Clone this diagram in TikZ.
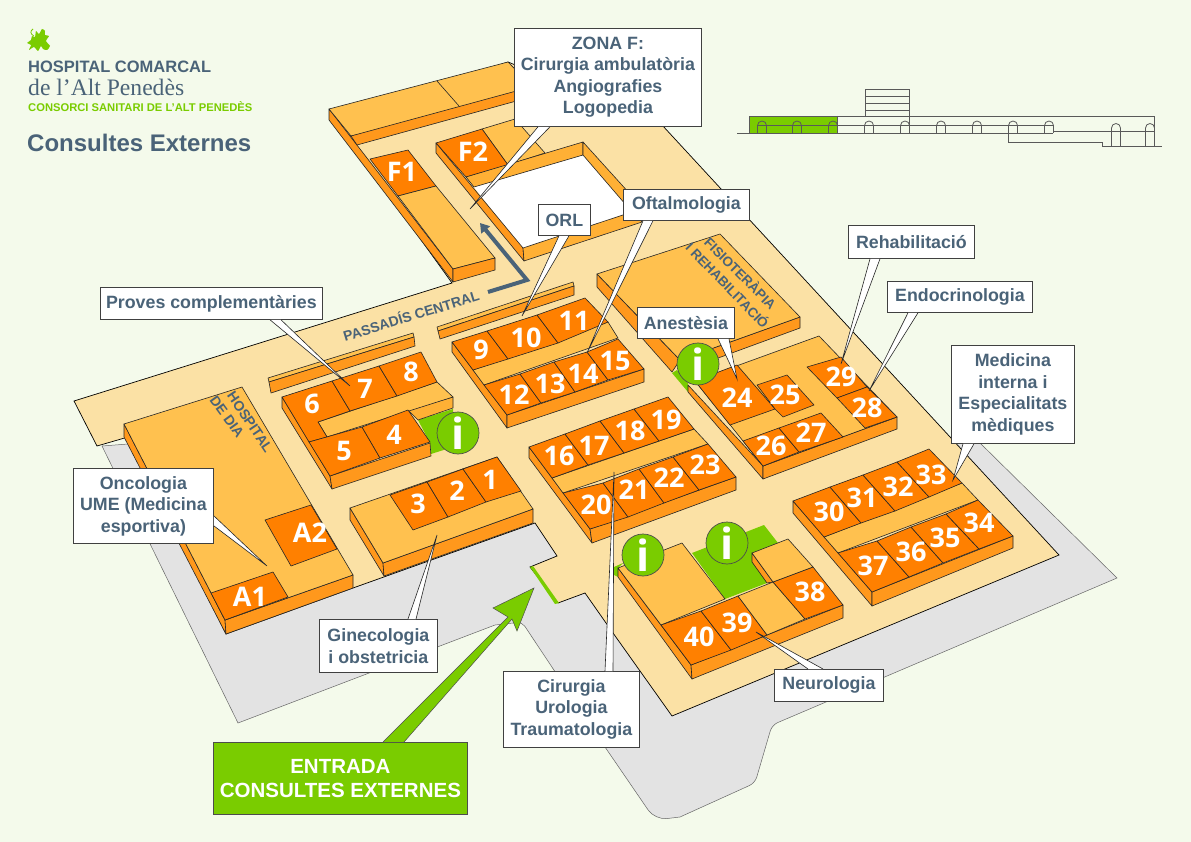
\documentclass[tikz,border=0pt]{standalone}
\usepackage{fontspec}
\setmainfont{Liberation Sans}
\newfontfamily\serifpart{Liberation Serif}
\newfontfamily\numfont{Open Sans}
\usetikzlibrary{arrows.meta}

\definecolor{pagebg}{HTML}{F4FAEB}
\definecolor{ground}{HTML}{E3E3E3}
\definecolor{floortan}{HTML}{FBE1A5}
\definecolor{roomorange}{HTML}{FF8000}
\definecolor{wallorange}{HTML}{FF981C}
\definecolor{rooflight}{HTML}{FFC14F}
\definecolor{bandlight}{HTML}{FFB035}
\definecolor{leafgreen}{HTML}{7ACC00}
\definecolor{slatetext}{HTML}{4A6378}

\tikzset{
  room/.style={fill=roomorange, draw=black!85, line width=0.6pt, line join=round},
  wall/.style={fill=wallorange, draw=black!85, line width=0.6pt, line join=round},
  roof/.style={fill=rooflight, draw=black!85, line width=0.6pt, line join=round},
  band/.style={fill=bandlight, draw=black!85, line width=0.6pt, line join=round},
  garden/.style={fill=leafgreen},
  num/.style={text=white, inner sep=0pt, font=\numfont\bfseries\fontsize{27}{27}\selectfont},
  callout/.style={fill=white, draw=black!75, line width=0.8pt, inner sep=0pt, anchor=north west,
    align=center, text=slatetext, font=\bfseries\fontsize{17.8}{21.5}\selectfont},
  infodot/.style={circle, fill=leafgreen, draw=black!70, line width=0.7pt, minimum size=42pt,
    inner sep=0pt, text=white, font=\numfont\bfseries\fontsize{43}{43}\selectfont},
  walltext/.style={text=slatetext, inner sep=0pt, font=\bfseries\fontsize{13.5}{14}\selectfont},
  logotext/.style={anchor=west, inner sep=0pt, text=slatetext},
  sect/.style={draw=black!65, line width=0.8pt},
}

\newcommand{\calloutlead}[3]{
  \fill[white] (#1) -- (#3) -- (#2) -- cycle;
  \draw[black!85, line width=0.6pt, line join=miter] (#1) -- (#3) -- (#2);
}

\begin{document}
\begin{tikzpicture}[x=1pt, y=-1pt]
    \useasboundingbox (0,0) rectangle (1191,842);
    \fill[pagebg] (0,0) rectangle (1191,842);

    % logo
    \fill[leafgreen] plot[smooth cycle, tension=0.4] coordinates {(27,43) (31,40) (32,36) (35,37) (36,31) (39,34)
      (42,29) (45,31) (45,35) (49,36) (46,41) (50,46) (47,50) (43,49) (41,46) (38,51) (34,47) (29,50) (31,45)};
    \draw[leafgreen, line width=0.8pt] (34,36) .. controls (30,34) and (30,31) .. (33,29);
    \node[logotext, font=\bfseries\fontsize{16.5}{17}\selectfont] (logoa) at (28,66.5) {HOSPITAL COMARCAL};
    \node[logotext, font=\serifpart\fontsize{23.6}{24}\selectfont] (logob) at (28,87) {de l’Alt Penedès};
    \node[logotext, text=leafgreen, font=\bfseries\fontsize{11.2}{12}\selectfont] (logoc) at (28,107) {CONSORCI SANITARI DE L’ALT PENEDÈS};
    \node[logotext, font=\bfseries\fontsize{24}{25}\selectfont] (maintitle) at (27,143) {Consultes Externes};

    % section at top right
    \fill[leafgreen] (749,116) rectangle (837,133);
    \draw[sect] (737,133) -- (1053,133);
    \draw[sect] (749,133) -- (749,116) -- (1154,116) -- (1154,146);
    \draw[sect] (837,116) -- (837,133);
    \draw[sect] (865,116) -- (865,89) -- (909,89) -- (909,125);
    \foreach \rowy in {96,103,110} {
      \draw[sect] (865,\rowy) -- (909,\rowy);
    }
    \draw[sect] (757,125) -- (1053,125);
    \draw[sect] (1053,131) -- (1112,131);
    \draw[sect] (1120,131) -- (1146,131);
    \draw[sect] (1008,133) -- (1008,142) -- (1102,142) -- (1102,146) -- (1162,146);
    \foreach \archx in {762,797,833,869,905,941,977,1013,1049} {
      \draw[sect] (\archx-4.5,133) -- (\archx-4.5,125.5) arc (180:360:4.5) -- (\archx+4.5,133);
    }
    \foreach \archx in {1116,1150} {
      \draw[sect] (\archx-4.5,146) -- (\archx-4.5,128) arc (180:360:4.5) -- (\archx+4.5,146);
      \draw[sect] (\archx-4.5,131) -- (\archx+4.5,131);
    }

    % ground
    \filldraw[fill=ground, draw=black!60, line width=0.5pt] (102,446) -- (238,723) -- (495,625)
      [rounded corners=5pt] -- (522,622) [sharp corners] -- (605,747)
      [rounded corners=12pt] -- (655,820) [sharp corners] -- (680,817)
      [rounded corners=6pt] -- (755,783) -- (772,725) [sharp corners] -- (1117,578) -- (980,443) -- (700,400) -- cycle;

    % floor
    \filldraw[fill=floortan, draw=black, line width=0.7pt, line join=miter] (74,401) -- (452,283) -- (335,120)
      -- (508,62) -- (662,125) -- (1059,555) -- (672,716) -- (613,633) -- (585,593) -- (558,603)
      -- (530,567) -- (557,556) -- (535,523) -- (353,588) -- (226,634) -- (128,437) -- (97,446) -- cycle;
    % entrance door
    \fill[leafgreen] (530,567) -- (533,566) -- (559,603) -- (555,604) -- cycle;

    % zone F
    \draw[wall] (329,109) -- (329,120) -- (453,282) -- (453,269) -- cycle;
    \draw[roof] (329,109) -- (508,62) -- (540,95) -- (351,136) -- cycle;
    \draw[black!85, line width=0.6pt] (437,81) -- (459,106);
    \draw[wall] (351,136) -- (520,90) -- (520,100) -- (357,145) -- cycle;
    \draw[room] (370,159) -- (408,150) -- (436,186) -- (398,196) -- cycle;
    \draw[roof] (398,196) -- (436,186) -- (495,258) -- (453,269) -- cycle;
    \draw[wall] (453,269) -- (495,258) -- (495,270) -- (453,282) -- cycle;
    \node[num] (roomfa) at (402,172) {F1};

    \draw[roof] (482,129) -- (515,119) -- (545,153) -- (508,165) -- cycle;
    \draw[room] (436,143) -- (482,129) -- (508,165) -- (466,177) -- cycle;
    \node[num] (roomfb) at (473,152) {F2};
    \fill[white] (474,187) -- (583,155) -- (640,210) -- (523,250) -- cycle;
    \draw[wall] (436,143) -- (436,153) -- (524,261) -- (523,248) -- cycle;
    \draw[band] (466,177) -- (583,142) -- (583,155) -- (474,187) -- cycle;
    \draw[band] (583,142) -- (640,205) -- (632,212) -- (583,155) -- cycle;
    \draw[band] (523,248) -- (632,212) -- (642,222) -- (524,261) -- cycle;

    % corridor arrow
    \draw[slatetext, line width=4pt, -{Triangle[length=9pt, width=11pt]}] (488,292) -- (527,280) -- (480,223);
    \node[walltext, font=\bfseries\fontsize{14}{14}\selectfont, rotate=17] (corridor) at (411,315) {PASSADÍS CENTRAL};

    % narrow walls
    \draw[roof] (437,327) -- (573,282) -- (574,286) -- (438,331) -- cycle;
    \draw[wall] (438,331) -- (574,286) -- (574,295) -- (440,339) -- cycle;
    \draw[roof] (268,378) -- (413,333) -- (414,337) -- (269,382) -- cycle;
    \draw[wall] (269,382) -- (414,337) -- (415,346) -- (271,393) -- cycle;

    % block A
    \draw[wall] (124,424) -- (124,437) -- (226,634) -- (225,620) -- cycle;
    \draw[wall] (225,620) -- (353,575) -- (353,588) -- (226,634) -- cycle;
    \draw[roof] (124,424) -- (242,387) -- (353,575) -- (225,620) -- cycle;
    \draw[room] (211,593) -- (273,572) -- (288,597) -- (225,620) -- cycle;
    \draw[room] (265,520) -- (311,505) -- (337,549) -- (291,566) -- cycle;
    \node[num] (rooma) at (250,597) {A1};
    \node[num] (roomb) at (310,533) {A2};
    \node[walltext, font=\bfseries\fontsize{14}{14}\selectfont, rotate=-56] (hosptext) at (250,422) {HOSPITAL};
    \node[walltext, font=\bfseries\fontsize{14}{14}\selectfont, rotate=-54] (diatext) at (227,417) {DE DIA};

    % block 1 to 3
    \draw[wall] (350,508) -- (350,520) -- (384,576) -- (383,563) -- cycle;
    \draw[wall] (383,563) -- (533,509) -- (533,523) -- (384,576) -- cycle;
    \draw[roof] (350,508) -- (497,457) -- (533,509) -- (383,563) -- cycle;
    \draw[room] (390,495) -- (427,482) -- (448,517) -- (413,530) -- cycle;
    \draw[room] (427,482) -- (463,469) -- (486,502) -- (448,517) -- cycle;
    \draw[room] (463,469) -- (497,457) -- (521,491) -- (486,502) -- cycle;
    \foreach \numx/\numy/\numtext in {490/480/1, 457/491/2, 418/504/3} {
      \node[num] (room\numtext) at (\numx,\numy) {\numtext};
    }

    % block 4 to 8
    \fill[garden] (418,420) -- (453,409) -- (453,447) -- (431,454) -- (430,443) -- cycle;
    \draw[band] (408,410) -- (453,397) -- (453,408) -- (418,420) -- cycle;
    \draw[wall] (282,397) -- (282,408) -- (332,489) -- (330,476) -- cycle;
    \draw[wall] (330,476) -- (430,443) -- (431,456) -- (332,489) -- cycle;
    \draw[roof] (318,422) -- (437,382) -- (453,397) -- (327,437) -- cycle;
    \draw[room] (282,397) -- (332,381) -- (350,411) -- (318,422) -- (327,437) -- (309,442) -- cycle;
    \draw[room] (332,381) -- (379,366) -- (397,396) -- (350,411) -- cycle;
    \draw[room] (379,366) -- (421,352) -- (437,382) -- (397,396) -- cycle;
    \draw[room] (309,442) -- (362,427) -- (380,458) -- (330,476) -- cycle;
    \draw[room] (362,427) -- (408,410) -- (430,442) -- (380,458) -- cycle;
    \foreach \numx/\numy/\numtext in {394/435/4, 344/451/5, 312/404/6, 365/389/7, 411/372/8} {
      \node[num] (room\numtext) at (\numx,\numy) {\numtext};
    }

    % block 9 to 15
    \draw[wall] (452,342) -- (452,352) -- (507,428) -- (507,415) -- cycle;
    \draw[wall] (507,415) -- (644,369) -- (644,382) -- (507,428) -- cycle;
    \draw[roof] (473,370) -- (608,322) -- (618,338) -- (484,385) -- cycle;
    \draw[room] (452,342) -- (487,331) -- (508,359) -- (473,370) -- cycle;
    \draw[room] (487,331) -- (537,315) -- (558,343) -- (508,359) -- cycle;
    \draw[room] (537,315) -- (585,298) -- (608,322) -- (558,343) -- cycle;
    \draw[room] (484,385) -- (520,374) -- (541,403) -- (507,415) -- cycle;
    \draw[room] (520,374) -- (554,362) -- (575,392) -- (541,403) -- cycle;
    \draw[room] (554,362) -- (587,352) -- (608,380) -- (575,392) -- cycle;
    \draw[room] (587,352) -- (618,339) -- (644,369) -- (608,380) -- cycle;
    \foreach \numx/\numy/\numtext in {481/350/9, 526/338/10, 574/321/11, 514/395/12, 550/384/13, 583/374/14, 615/361/15} {
      \node[num] (room\numtext) at (\numx,\numy) {\numtext};
    }

    % block 16 to 23
    \draw[wall] (529,447) -- (529,458) -- (592,543) -- (590,529) -- cycle;
    \draw[wall] (590,529) -- (736,477) -- (736,490) -- (592,543) -- cycle;
    \draw[roof] (552,478) -- (694,429) -- (708,444) -- (563,493) -- cycle;
    \draw[room] (529,447) -- (565,434) -- (588,465) -- (552,478) -- cycle;
    \draw[room] (565,434) -- (600,421) -- (624,453) -- (588,465) -- cycle;
    \draw[room] (600,421) -- (634,409) -- (659,441) -- (624,453) -- cycle;
    \draw[room] (634,409) -- (668,397) -- (694,429) -- (659,441) -- cycle;
    \draw[room] (563,493) -- (603,483) -- (628,517) -- (590,529) -- cycle;
    \draw[room] (603,483) -- (639,469) -- (664,503) -- (628,517) -- cycle;
    \draw[room] (639,469) -- (673,457) -- (699,490) -- (664,503) -- cycle;
    \draw[room] (673,457) -- (708,444) -- (736,477) -- (699,490) -- cycle;
    \foreach \numx/\numy/\numtext in {559/456/16, 594/446/17, 630/431/18, 666/420/19, 596/505/20, 634/490/21, 669/478/22, 705/465/23} {
      \node[num] (room\numtext) at (\numx,\numy) {\numtext};
    }

    % rehabilitation wing
    \draw[wall] (597,274) -- (597,287) -- (672,372) -- (680,360) -- cycle;
    \draw[wall] (680,360) -- (800,317) -- (800,328) -- (680,372) -- cycle;
    \draw[roof] (597,274) -- (720,234) -- (800,317) -- (680,360) -- cycle;
    \node[walltext, rotate=-45] (fisiotext) at (741,273) {FISIOTERÀPIA};
    \node[walltext, rotate=-46] (rehabtext) at (728,285) {I REHABILITACIÓ};
    \fill[garden] (672,373) -- (677,370) -- (688,383) -- (688,392) -- cycle;

    % block 24 to 29
    \draw[wall] (688,385) -- (688,392) -- (763,479) -- (763,466) -- cycle;
    \draw[wall] (763,466) -- (897,417) -- (897,429) -- (763,479) -- cycle;
    \draw[roof] (695,381) -- (819,336) -- (897,417) -- (763,466) -- cycle;
    \draw[room] (695,381) -- (737,365) -- (775,409) -- (730,425) -- cycle;
    \draw[room] (757,385) -- (787,375) -- (814,405) -- (783,417) -- (775,409) -- cycle;
    \draw[room] (743,441) -- (779,428) -- (799,452) -- (763,466) -- cycle;
    \draw[room] (779,428) -- (821,413) -- (843,437) -- (799,452) -- cycle;
    \draw[room] (807,367) -- (841,357) -- (867,387) -- (837,398) -- cycle;
    \draw[room] (837,398) -- (867,387) -- (897,417) -- (865,428) -- cycle;
    \foreach \numx/\numy/\numtext in {737/398/24, 785/395/25, 771/446/26, 811/433/27, 867/408/28, 841/377/29} {
      \node[num] (room\numtext) at (\numx,\numy) {\numtext};
    }

    % block 30 to 37
    \draw[wall] (793,501) -- (793,513) -- (872,606) -- (872,592) -- cycle;
    \draw[wall] (872,592) -- (1013,536) -- (1013,548) -- (872,606) -- cycle;
    \draw[roof] (824,537) -- (962,483) -- (978,500) -- (838,553) -- cycle;
    \draw[room] (793,501) -- (830,487) -- (861,523) -- (824,537) -- cycle;
    \draw[room] (830,487) -- (863,475) -- (895,511) -- (861,523) -- cycle;
    \draw[room] (863,475) -- (897,462) -- (929,497) -- (895,511) -- cycle;
    \draw[room] (897,462) -- (929,449) -- (962,483) -- (929,497) -- cycle;
    \draw[room] (838,553) -- (877,541) -- (909,577) -- (872,592) -- cycle;
    \draw[room] (877,541) -- (911,527) -- (943,563) -- (909,577) -- cycle;
    \draw[room] (911,527) -- (946,514) -- (979,549) -- (943,563) -- cycle;
    \draw[room] (946,514) -- (978,500) -- (1013,536) -- (979,549) -- cycle;
    \foreach \numx/\numy/\numtext in {829/512/30, 862/498/31, 898/487/32, 931/475/33, 979/523/34, 945/538/35, 911/552/36, 873/566/37} {
      \node[num] (room\numtext) at (\numx,\numy) {\numtext};
    }

    % block 38 to 40
    \fill[garden] (614,567) -- (623,563) -- (618,568) -- (618,577) -- (614,575) -- cycle;
    \fill[garden] (692,553) -- (764,525) -- (778,543) -- (752,553) -- (767,583) -- (725,599) -- cycle;
    \draw[wall] (618,568) -- (618,577) -- (692,679) -- (691,665) -- cycle;
    \draw[wall] (691,665) -- (843,605) -- (843,618) -- (692,679) -- cycle;
    \draw[roof] (618,568) -- (682,543) -- (725,599) -- (661,625) -- cycle;
    \draw[room] (661,625) -- (701,611) -- (731,650) -- (691,665) -- cycle;
    \draw[room] (701,611) -- (738,596) -- (767,635) -- (731,650) -- cycle;
    \draw[roof] (738,596) -- (773,582) -- (805,619) -- (767,635) -- cycle;
    \draw[room] (773,582) -- (813,567) -- (843,605) -- (805,619) -- cycle;
    \draw[wall] (752,553) -- (752,562) -- (767,583) -- (773,582) -- cycle;
    \draw[roof] (752,553) -- (788,539) -- (813,567) -- (773,582) -- cycle;
    \foreach \numx/\numy/\numtext in {810/592/38, 737/623/39, 699/637/40} {
      \node[num] (room\numtext) at (\numx,\numy) {\numtext};
    }

    % information points
    \node[infodot] (infoa) at (458,433) {i};
    \node[infodot] (infob) at (698,364) {i};
    \node[infodot] (infoc) at (643,555) {i};
    \node[infodot] (infod) at (727,543) {i};

    % labels
    \node[callout, minimum width=187pt, minimum height=98pt] (zona) at (514,28)
      {ZONA F:\\Cirurgia ambulatòria\\Angiografies\\Logopedia};
    \node[callout, minimum width=52pt, minimum height=31pt] (orl) at (538,204) {ORL};
    \node[callout, minimum width=126pt, minimum height=31pt] (oftalmo) at (623,189) {Oftalmologia};
    \node[callout, minimum width=222pt, minimum height=32pt] (proves) at (100,287) {Proves complementàries};
    \node[callout, minimum width=140pt, minimum height=75pt] (onco) at (73,468) {Oncologia\\UME (Medicina\\esportiva)};
    \node[callout, minimum width=118pt, minimum height=53pt] (gineco) at (319,619) {Ginecologia\\i obstetricia};
    \node[callout, minimum width=136pt, minimum height=76pt] (cirurgia) at (503,671) {Cirurgia\\Urologia\\Traumatologia};
    \node[callout, minimum width=109pt, minimum height=32pt] (neuro) at (774,669) {Neurologia};
    \node[callout, minimum width=97pt, minimum height=31pt] (anest) at (637,307) {Anestèsia};
    \node[callout, minimum width=126pt, minimum height=33pt] (rehab) at (848,225) {Rehabilitació};
    \node[callout, minimum width=145pt, minimum height=31pt] (endo) at (887,281) {Endocrinologia};
    \node[callout, minimum width=123pt, minimum height=98pt] (medicina) at (951,345)
      {Medicina\\interna i\\Especialitats\\mèdiques};

    \coordinate (tipzona) at (470,209);
    \coordinate (tiporl) at (522,316);
    \coordinate (tipoftalmo) at (587,353);
    \coordinate (tipproves) at (350,386);
    \coordinate (tiponco) at (267,566);
    \coordinate (tipgineco) at (437,535);
    \coordinate (tipcirurgia) at (614,472);
    \coordinate (tipneuro) at (756,632);
    \coordinate (tipanest) at (737,379);
    \coordinate (tiprehab) at (841,364);
    \coordinate (tipendo) at (869,391);
    \coordinate (tipmedicina) at (953,480);

    \calloutlead{[xshift=24pt]zona.south west}{[xshift=36pt]zona.south west}{tipzona}
    \calloutlead{[xshift=21pt]orl.south west}{[xshift=31pt]orl.south west}{tiporl}
    \calloutlead{[xshift=20pt]oftalmo.south west}{[xshift=30pt]oftalmo.south west}{tipoftalmo}
    \calloutlead{[xshift=170pt]proves.south west}{[xshift=181pt]proves.south west}{tipproves}
    \calloutlead{[yshift=18pt]onco.south east}{[yshift=28pt]onco.south east}{tiponco}
    \calloutlead{[xshift=89pt]gineco.north west}{[xshift=97pt]gineco.north west}{tipgineco}
    \calloutlead{[xshift=102pt]cirurgia.north west}{[xshift=110pt]cirurgia.north west}{tipcirurgia}
    \calloutlead{[xshift=34pt]neuro.north west}{[xshift=49pt]neuro.north west}{tipneuro}
    \calloutlead{[xshift=81pt]anest.south west}{[xshift=92pt]anest.south west}{tipanest}
    \calloutlead{[xshift=22pt]rehab.south west}{[xshift=32pt]rehab.south west}{tiprehab}
    \calloutlead{[xshift=21pt]endo.south west}{[xshift=31pt]endo.south west}{tipendo}
    \calloutlead{[xshift=12pt]medicina.south west}{[xshift=23pt]medicina.south west}{tipmedicina}

    % entrance
    \node[fill=leafgreen, draw=black!70, line width=0.8pt, anchor=north west, minimum width=254pt, minimum height=72pt,
      inner sep=0pt, align=center, text=white, font=\bfseries\fontsize{20.5}{24}\selectfont] (entrada) at (213,742)
      {ENTRADA\\CONSULTES EXTERNES};
    \coordinate (tipentrada) at (534,588);
    \draw[fill=leafgreen, draw=black!70, line width=0.5pt] ([xshift=170pt]entrada.north west) -- (508,617) -- (493,608)
      -- (tipentrada) -- (517,631) -- (512,619) -- ([xshift=191pt]entrada.north west);
\end{tikzpicture}
\end{document}
